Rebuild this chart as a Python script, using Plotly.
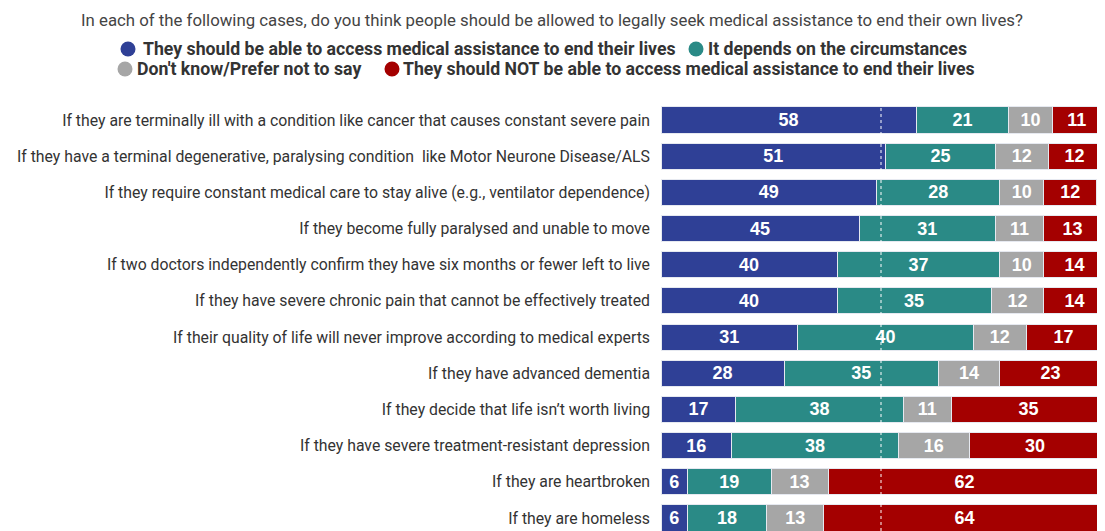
import plotly.graph_objects as go

# survey data, top to bottom
cases = [
    "If they are terminally ill with a condition like cancer that causes constant severe pain",
    "If they have a terminal degenerative, paralysing condition  like Motor Neurone Disease/ALS",
    "If they require constant medical care to stay alive (e.g., ventilator dependence)",
    "If they become fully paralysed and unable to move",
    "If two doctors independently confirm they have six months or fewer left to live",
    "If they have severe chronic pain that cannot be effectively treated",
    "If their quality of life will never improve according to medical experts",
    "If they have advanced dementia",
    "If they decide that life isn\u2019t worth living",
    "If they have severe treatment-resistant depression",
    "If they are heartbroken",
    "If they are homeless",
]
should_access = [58, 51, 49, 45, 40, 40, 31, 28, 17, 16, 6, 6]
depends = [21, 25, 28, 31, 37, 35, 40, 35, 38, 38, 19, 18]
dont_know = [10, 12, 10, 11, 10, 12, 12, 14, 11, 16, 13, 13]
should_not = [11, 12, 12, 13, 14, 14, 17, 23, 35, 30, 62, 64]

series = [
    ("They should be able to access medical assistance to end their lives", should_access, "#2F4096"),
    ("It depends on the circumstances", depends, "#2A8A86"),
    ("Don't know/Prefer not to say", dont_know, "#A6A6A6"),
    ("They should NOT be able to access medical assistance to end their lives", should_not, "#A40000"),
]

NARROW = "Liberation Sans Narrow, Arial Narrow, sans-serif"
SANS = "Roboto, Liberation Sans, sans-serif"

# page has an 8px body margin, so the figure is drawn 8px in from the window corner
OFF = 8
W, H = 1105 - OFF, 531 - OFF
L, R, T, B = 661 - OFF, 4, 92 - OFF, 0
pw, ph = W - L - R, H - T - B

def px_x(px):
    return (px - OFF - L) / pw

def px_y(py):
    return (H - B - (py - OFF)) / ph

fig = go.Figure()
for name, vals, col in series:
    fig.add_trace(go.Bar(
        y=cases, x=vals, name=name, orientation="h",
        marker=dict(color=col, line=dict(color="#E6E9F0", width=1)),
        text=vals, textposition="inside", insidetextanchor="middle",
        textfont=dict(color="white", size=18, family=NARROW, weight="bold"),
        showlegend=False,
    ))

# dotted 50% line
fig.add_shape(type="line", x0=50, x1=50, y0=0, y1=1, yref="paper",
              line=dict(color="white", width=1, dash="dot"), layer="above")

title = "In each of the following cases, do you think people should be allowed to legally seek medical assistance to end their own lives?"
fig.add_annotation(text=title, x=px_x(552), y=1 + T / ph,
                   xref="paper", yref="paper", xanchor="center", yanchor="top",
                   showarrow=False, font=dict(size=16.8, color="#444", family=SANS))

# hand-made two-row legend: (dot centre x, text start x, row y)
legend_pos = [(128, 141, 49), (696, 706, 49), (125, 135, 69), (392, 401, 69)]
for (name, _, col), (dx, tx, ry) in zip(series, legend_pos):
    fig.add_shape(type="circle", xref="paper", yref="paper",
                  x0=px_x(dx - 7.5), x1=px_x(dx + 7.5), y0=px_y(ry + 7.5), y1=px_y(ry - 7.5),
                  fillcolor=col, line=dict(width=0))
    fig.add_annotation(text=name, x=px_x(tx), y=px_y(ry), xref="paper", yref="paper",
                       xanchor="left", yanchor="middle", showarrow=False,
                       font=dict(size=17.7, color="#333", family=SANS, weight="bold"))

fig.update_layout(
    barmode="stack", bargap=0.28,
    width=W, height=H,
    margin=dict(l=L, r=R, t=T, b=B, autoexpand=False),
    plot_bgcolor="white", paper_bgcolor="white",
    font=dict(family=SANS, size=14, color="#333"),
)
fig.update_xaxes(range=[0, 100], visible=False, fixedrange=True, automargin=False)
fig.update_yaxes(autorange=False, range=[11.36, -0.774], showgrid=False, zeroline=False,
                 automargin=False, ticks="", ticklabelstandoff=10,
                 tickfont=dict(size=15.8, color="#333", family=SANS))

fig.write_html("out.html")
